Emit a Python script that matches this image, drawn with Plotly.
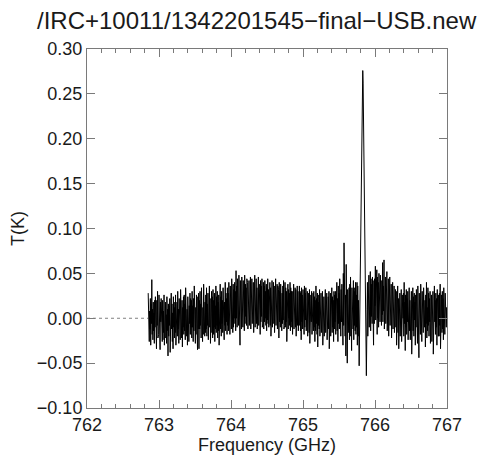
import plotly.graph_objects as go

# Spectrum values (mK), channel spacing 5 MHz
freq_start_1 = 762.85
freq_step = 0.005
noise_1_mK = [
    28, -20, 14, -26, 8, -12, 22, -30, 16, -6, 43, -18, 10, -24, 18, -14, 6, -28, 20, -10,
    24, -16, 12, -34, 20, -8, 30, -22, 6, -18, 26, -12, 14, -35, 18, -4, 22, -20, 10, -26,
    20, -24, 8, -16, 26, -30, 12, -10, 18, -22, 4, -28, 24, -14, 10, -42, 16, -20, 14, -8,
    22, -38, 10, -18, 28, -12, 16, -26, 6, -34, 24, -10, 18, -22, 12, -16, 26, -30, 8, -14,
    18, -20, 30, -12, 10, -28, 22, -8, 14, -24, 32, -16, 6, -22, 20, -32, 12, -10, 24, -18,
    26, -14, 16, -24, 34, -8, 20, -20, 10, -30, 24, -12, 18, -26, 14, -6, 28, -18, 22, -10,
    20, -22, 30, -10, 14, -26, 22, -14, 36, -8, 18, -28, 12, -18, 26, -20, 16, -35, 24, -12,
    28, -34, 20, -12, 30, -8, 16, -22, 34, -14, 22, -26, 12, -18, 38, -10, 24, -20, 18, -16,
    26, -12, 34, -20, 16, -8, 28, -24, 20, -14, 36, -10, 22, -28, 18, -6, 30, -16, 24, -22,
    32, -18, 20, -10, 28, -26, 14, -12, 36, -16, 24, -8, 30, -22, 18, -14, 26, -30, 22, -6,
    38, -12, 24, -20, 30, -6, 20, -16, 34, -10, 26, -24, 18, -8, 40, -14, 28, -4, 22, -18,
    34, -8, 28, -14, 40, -2, 24, -18, 36, -6, 30, -12, 44, -4, 26, -16, 38, -10, 32, 0,
    40, -6, 30, -14, 53, 0, 36, -10, 44, 2, 32, -8, 48, -4, 38, -30, 42, 4, 34, -12,
    46, -2, 36, -10, 42, 6, 30, -14, 48, -6, 38, 2, 34, -8, 44, -4, 40, -12, 36, 0,
    42, -8, 38, 4, 46, -12, 32, -2, 44, -6, 36, 0, 40, -16, 34, -4, 48, -10, 38, 2,
    44, -6, 34, -12, 40, 0, 46, -8, 32, -2, 38, -18, 42, -4, 36, 2, 44, -10, 30, -6,
    40, -12, 36, -4, 42, 0, 30, -8, 38, -14, 34, -2, 44, -6, 32, -10, 36, 0, 40, -8,
    34, -20, 38, -4, 42, -10, 30, 2, 40, -6, 36, -16, 32, -2, 44, -8, 34, 0, 38, -12,
    36, -6, 32, -22, 40, -4, 30, -10, 38, 0, 34, -14, 28, -6, 36, -2, 42, -12, 30, -8,
    40, -10, 34, -4, 30, -26, 36, -6, 38, -12, 32, 0, 28, -8, 40, -14, 34, -4, 30, -10,
    30, -18, 36, -6, 38, -12, 28, -2, 34, -10, 32, -20, 26, -4, 36, -8, 30, -14, 28, -6,
    36, -8, 30, -14, 28, -24, 34, -4, 26, -12, 32, -6, 24, -18, 36, -10, 28, -2, 34, -14,
    26, -12, 30, -20, 22, -6, 28, -16, 32, -28, 20, -10, 26, -4, 30, -18, 24, -8, 28, -14,
    30, -10, 24, -26, 20, -14, 36, -6, 22, -18, 28, -32, 18, -8, 26, -12, 32, -20, 18, -10,
    28, -16, 22, -8, 30, -30, 18, -12, 24, -20, 26, -6, 32, -16, 20, -10, 28, -24, 16, -14,
    24, -12, 30, -34, 18, -8, 28, -20, 22, -6, 34, -16, 24, -10, 20, -26, 30, -12, 26, -4,
    30, -18, 26, -8, 40, -14, 22, -26, 36, -6, 28, -12, 44, -10, 24, -20, 32, -4, 38, -16,
    30, -30, 50, -8, 84, -12, 34, -20, 26, -42, 60, -10, 22, -50, 32, -8, 28, -16, 34, -24,
    38, -20, 46, -14, 28, -36, 34, -6, 28, -12, 42, -24, 30, -8, 34, -14, 40, -18, 26, -10,
    40, -30, 36, -20, 20,
]

line_freqs = [765.78, 765.79, 765.80, 765.81, 765.82, 765.825, 765.83,
              765.835, 765.84, 765.85, 765.86, 765.87, 765.88]
line_mK = [-53, 10, 80, 160, 240, 268, 276, 262, 215, 140, 70, 15, -64]

freq_start_2 = 765.89
noise_2_mK = [
    10, 40, -20, 36, 0, 48, -10, 30, 6, 52, -14, 44, 2, 38, -6, 46, 12, 34, -30, 42,
    -6, 44, 14, 58, -2, 38, 8, 54, -18, 46, 0, 40, -10, 50, 6, 36, -4, 48, 10, 42,
    -8, 42, 4, 62, -4, 36, 8, 65, -12, 40, 2, 46, -6, 38, 10, 52, -14, 34, 0, 44,
    -20, 34, 0, 46, -8, 28, 2, 38, -22, 30, -4, 40, -12, 26, 6, 36, -16, 24, -6, 32,
    -10, 30, -30, 18, -4, 36, -16, 22, -34, 14, -8, 28, -20, 24, -2, 32, -26, 20, -12, 26,
    0, 28, -20, 40, -6, 18, -36, 26, -10, 32, -18, 22, -4, 30, -24, 16, -8, 34, -14, 20,
    -24, 14, -8, 30, -40, 20, -6, 34, -14, 24, -20, 28, -2, 18, -30, 26, -10, 32, -16, 22,
    -28, 36, -2, 16, -44, 28, -8, 22, -18, 38, -12, 20, -26, 30, -4, 24, -16, 34, -10, 18,
    -10, 20, -32, 26, -6, 40, -22, 12, -14, 34, -8, 28, -20, 22, -4, 30, -28, 18, -12, 26,
    -26, 18, -6, 30, -40, 24, -12, 36, -4, 20, -18, 28, -10, 22, -30, 32, -8, 16, -20, 26,
    -20, 28, -8, 38, -34, 16, -4, 26, -16, 30, -12, 22, -24, 34, -6, 20, -18, 28, -10, 24,
    -10, 12, -6,
]

blank_freqs = [762.0, 762.85]
blank_T = [0.0, 0.0]

x_ticks = [762, 763, 764, 765, 766, 767]
y_ticks = [-0.10, -0.05, 0.00, 0.05, 0.10, 0.15, 0.20, 0.25, 0.30]

# assemble the channel grid
freqs = [round(freq_start_1 + i * freq_step, 4) for i in range(len(noise_1_mK))]
vals = [v / 1000 for v in noise_1_mK]
freqs += line_freqs
vals += [v / 1000 for v in line_mK]
freqs += [round(freq_start_2 + i * freq_step, 4) for i in range(len(noise_2_mK))]
vals += [v / 1000 for v in noise_2_mK]

fig = go.Figure()
fig.add_trace(go.Scatter(x=blank_freqs, y=blank_T, mode="lines",
                         line=dict(color="#808080", width=1, dash="dot"),
                         hoverinfo="skip"))
fig.add_trace(go.Scatter(x=freqs, y=vals, mode="lines",
                         line=dict(color="black", width=1)))

axis_common = dict(
    showgrid=False, zeroline=False, showline=True, linecolor="#7a7a7a",
    linewidth=1, mirror="ticks", ticks="inside", tickcolor="#7a7a7a",
    automargin=False,
    tickfont=dict(family="Liberation Sans, Arial, sans-serif", size=18, color="#1a1a1a"),
)

# the page places the figure 8 px from the top-left corner of the window
fig.update_layout(
    width=492, height=452,
    margin=dict(l=79, r=53, t=41, b=52),
    paper_bgcolor="white", plot_bgcolor="white",
    showlegend=False,
    font=dict(family="Liberation Sans, Arial, sans-serif", color="#1a1a1a"),
    title=dict(text="/IRC+10011/1342201545\u2212final\u2212USB.new",
               x=29 / 492, xref="container", xanchor="left",
               y=1 - 4 / 452, yref="container", yanchor="top",
               pad=dict(t=0, b=0, l=0, r=0),
               font=dict(size=24, color="#1a1a1a"), automargin=False),
    xaxis=dict(range=[762, 767], tickvals=x_ticks, ticklen=8,
               minor=dict(dtick=0.2, ticks="inside", ticklen=4, tickcolor="#7a7a7a"),
               title=dict(text="Frequency (GHz)", font=dict(size=18), standoff=0),
               **axis_common),
    yaxis=dict(range=[-0.10, 0.30], tickvals=y_ticks, tickformat=".2f", ticklen=8,
               title=dict(text="T(K)", font=dict(size=18), standoff=34),
               **axis_common),
)

fig.write_html("out.html")
